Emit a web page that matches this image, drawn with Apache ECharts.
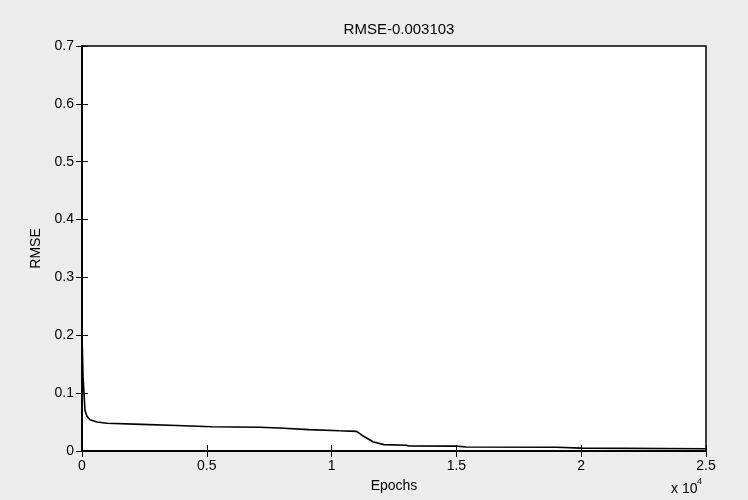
<!DOCTYPE html>
<html>
<head>
<meta charset="utf-8">
<script src="https://cdn.jsdelivr.net/npm/echarts@6/dist/echarts.min.js"></script>
<style>
html,body{margin:0;padding:0;background:#ececec;}
#chart{width:748px;height:500px;}
</style>
</head>
<body>
<div id="chart"></div>
<script>
const titleText = "RMSE-0.003103";
const xAxisName = "Epochs";
const yAxisName = "RMSE";
const epochs = [0, 40, 80, 120, 200, 320, 600, 1000, 2400, 3800, 5200, 7100, 7900, 9100, 10300, 11000, 11300, 11650, 12100, 13000, 13100, 15000, 15400, 19000, 20000, 25000];
const rmse   = [0.20, 0.13, 0.10, 0.07, 0.06, 0.054, 0.050, 0.048, 0.046, 0.044, 0.042, 0.041, 0.0397, 0.037, 0.035, 0.034, 0.025, 0.016, 0.011, 0.010, 0.0086, 0.0085, 0.007, 0.0065, 0.005, 0.004];
const xTickScale = 10000;
const exponentBase = "x 10";
const exponentPower = "4";

const chart = echarts.init(document.getElementById('chart'), null, {renderer: 'canvas'});
const FONT = 'Liberation Sans, Arial, sans-serif';
const data = epochs.map((e, i) => [e, rmse[i]]);

const commonTick = {show: true, inside: true, length: 6, lineStyle: {color: '#000', width: 1}};
chart.setOption({
  backgroundColor: '#ececec',
  animation: false,
  title: {
    text: titleText, left: 394, top: 17, textAlign: 'center',
    textStyle: {fontFamily: FONT, fontSize: 15, fontWeight: 'normal', color: '#000'}
  },
  grid: {left: 82, right: 42, top: 46, bottom: 49, show: true, backgroundColor: '#fff', borderColor: '#000', borderWidth: 1.5},
  xAxis: [{
    type: 'value', min: 0, max: 25000, interval: 5000,
    name: xAxisName, nameLocation: 'middle', nameGap: 28,
    nameTextStyle: {fontFamily: FONT, fontSize: 14, color: '#000'},
    axisLine: {show: true, lineStyle: {color: '#000', width: 1.5}},
    axisTick: commonTick,
    splitLine: {show: false},
    axisLabel: {fontFamily: FONT, fontSize: 14, color: '#000', margin: 8, formatter: v => String(v / xTickScale)}
  }, {
    type: 'value', position: 'top', min: 0, max: 25000, interval: 5000,
    axisLine: {show: true, lineStyle: {color: '#000', width: 1.5}},
    axisTick: commonTick, axisLabel: {show: false}, splitLine: {show: false}
  }],
  yAxis: [{
    type: 'value', min: 0, max: 0.7, interval: 0.1,
    name: yAxisName, nameLocation: 'middle', nameGap: 37,
    nameTextStyle: {fontFamily: FONT, fontSize: 14, color: '#000'},
    axisLine: {show: true, lineStyle: {color: '#000', width: 1.5}},
    axisTick: commonTick,
    splitLine: {show: false},
    axisLabel: {fontFamily: FONT, fontSize: 14, color: '#000', margin: 8, formatter: v => String(Math.round(v * 10) / 10)}
  }, {
    type: 'value', position: 'right', min: 0, max: 0.7, interval: 0.1,
    axisLine: {show: true, lineStyle: {color: '#000', width: 1.5}},
    axisTick: commonTick, axisLabel: {show: false}, splitLine: {show: false}
  }],
  graphic: [{
    type: 'text', left: 671, top: 482,
    style: {text: exponentBase, fontFamily: FONT, fontSize: 14, fill: '#000'}
  }, {
    type: 'text', left: 697, top: 477,
    style: {text: exponentPower, fontFamily: FONT, fontSize: 9, fill: '#000'}
  }],
  series: [{
    type: 'line', data: data, showSymbol: false, symbol: 'none',
    lineStyle: {color: '#000', width: 1.6}, xAxisIndex: 0, yAxisIndex: 0
  }]
});
</script>
</body>
</html>
